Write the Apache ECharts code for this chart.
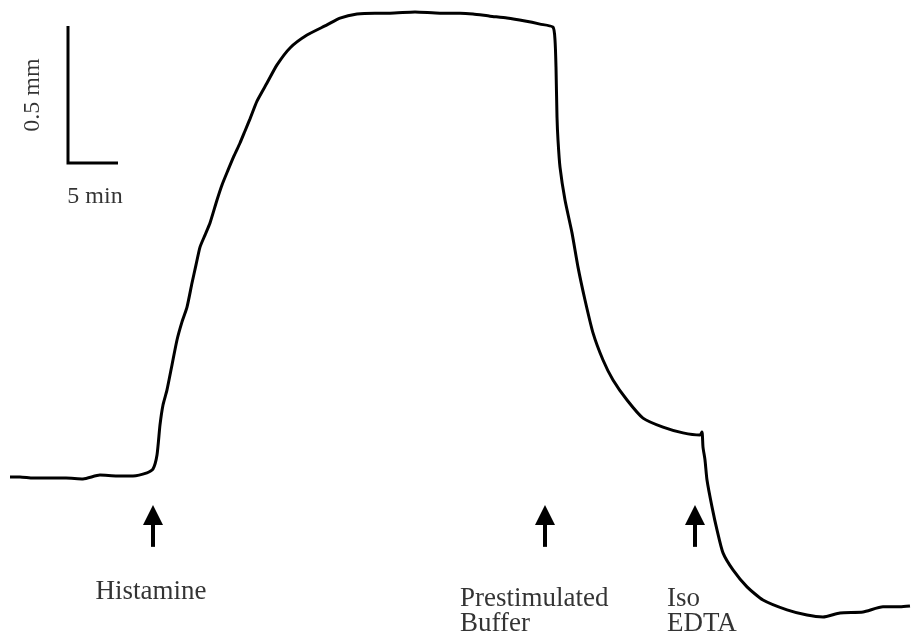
<!DOCTYPE html>
<html>
<head>
<meta charset="utf-8">
<script src="https://cdn.jsdelivr.net/npm/echarts@6/dist/echarts.min.js"></script>
<style>
  html, body { margin: 0; padding: 0; background: #fff; }
  #chart { width: 913px; height: 637px; }
</style>
</head>
<body>
<div id="chart"></div>
<script>
// trace: time in min, height in mm (baseline ~ 0)
const traceTime = [1.0, 2.0, 3.3, 5.0, 6.6, 8.3, 10.0, 11.7, 13.3, 14.7, 15.3, 15.7, 16.0, 16.3, 16.7, 17.2,
  17.7, 18.2, 18.7, 19.2, 19.6, 20.0, 20.5, 21.0, 21.7, 22.2, 22.8, 23.4, 24.0, 24.5, 25.0, 25.7, 26.7,
  27.7, 29.0, 30.7, 32.7, 34.0, 35.7, 37.5, 39.0, 41.5, 44.0, 46.0, 47.3, 49.0, 50.7, 52.5, 54.0, 55.3,
  55.5, 55.6, 55.7, 55.8, 56.0, 56.5, 57.2, 57.8, 58.5, 59.3, 60.3, 61.3, 62.7, 64.3, 66.3, 68.3, 70.0,
  70.2, 70.3, 70.5, 70.7, 71.2, 71.7, 72.3, 73.3, 74.7, 76.3, 78.7, 80.7, 82.3, 84.0, 86.3, 88.3, 90.0, 91.0]
const traceHeight = [0, 0, -0.004, -0.004, -0.004, -0.007, 0.007, 0.004, 0.004, 0.015, 0.029, 0.080, 0.190,
  0.263, 0.318, 0.409, 0.500, 0.566, 0.620, 0.708, 0.774, 0.839, 0.883, 0.927, 1.011, 1.066, 1.120, 1.172,
  1.219, 1.263, 1.307, 1.372, 1.438, 1.504, 1.566, 1.613, 1.650, 1.675, 1.690, 1.693, 1.693, 1.697, 1.693,
  1.693, 1.690, 1.682, 1.675, 1.664, 1.653, 1.642, 1.595, 1.496, 1.314, 1.230, 1.131, 1.011, 0.891, 0.766,
  0.646, 0.526, 0.427, 0.354, 0.281, 0.215, 0.182, 0.161, 0.153, 0.164, 0.109, 0.062, -0.011, -0.109,
  -0.193, -0.277, -0.339, -0.401, -0.449, -0.485, -0.504, -0.511, -0.496, -0.493, -0.474, -0.474, -0.471]

// scale bar: 0.5 mm x 5 min
const scaleTime = [6.8, 6.8, 11.8]
const scaleHeight = [1.646, 1.146, 1.146]

// stimulus arrows
const arrowTime = [15.3, 54.5, 69.5]
const arrowBottom = -0.255
const arrowTop = -0.139

// text labels
const labelText = ['Histamine', 'Prestimulated\nBuffer', 'Iso\nEDTA', '5 min', '0.5 mm']
const labelTime = [15.1, 46.0, 66.7, 9.5, 3.3]
const labelHeight = [-0.418, -0.490, -0.490, 1.022, 1.394]

const chart = echarts.init(document.getElementById('chart'))

const font = 'Liberation Serif'

const option = {
  backgroundColor: '#fff',
  animation: false,
  grid: { left: 0, right: 0, top: 0, bottom: 0 },
  xAxis: { type: 'value', min: 0, max: 91.3, show: false },
  yAxis: { type: 'value', min: -0.584, max: 1.741, show: false },
  series: [
    {
      type: 'line',
      data: traceTime.map((t, i) => [t, traceHeight[i]]),
      showSymbol: false,
      smooth: 0.2,
      lineStyle: { color: '#000', width: 3 }
    },
    {
      type: 'line',
      data: scaleTime.map((t, i) => [t, scaleHeight[i]]),
      showSymbol: false,
      lineStyle: { color: '#000', width: 3, join: 'miter' }
    },
    {
      type: 'lines',
      coordinateSystem: 'cartesian2d',
      data: arrowTime.map(t => ({ coords: [[t, arrowBottom], [t, arrowTop]] })),
      symbol: ['none', 'triangle'],
      symbolSize: [4, 20],
      lineStyle: { color: '#000', width: 4, opacity: 1 }
    },
    {
      type: 'scatter',
      symbolSize: 0,
      data: labelText.map((s, i) => ({
        value: [labelTime[i], labelHeight[i]],
        label: {
          show: true,
          formatter: s,
          position: 'inside',
          align: i === 1 || i === 2 ? 'left' : 'center',
          verticalAlign: 'middle',
          rotate: i === 4 ? 90 : 0,
          fontFamily: font,
          fontSize: i >= 3 ? 24 : 27,
          lineHeight: 25,
          color: '#000'
        }
      }))
    }
  ]
}

chart.setOption(option)
</script>
</body>
</html>
